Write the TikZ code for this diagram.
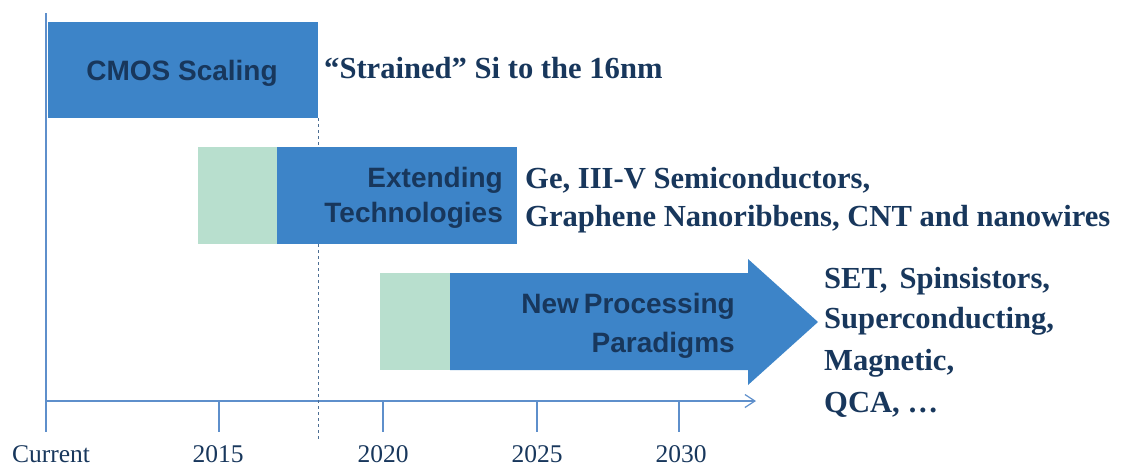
\documentclass[tikz,border=0pt]{standalone}
\usepackage{fontspec}
\setmainfont{Liberation Serif}
\setsansfont{Liberation Sans}
\usetikzlibrary{arrows.meta}
\definecolor{barblue}{HTML}{3D84C8}
\definecolor{bargreen}{HTML}{B8DFCE}
\definecolor{navy}{HTML}{18375C}
\definecolor{axisblue}{HTML}{5E8FCB}
\definecolor{dashgray}{HTML}{4D6E93}
\tikzset{
  barlabel/.style={font=\sffamily\bfseries\fontsize{28}{34}\selectfont, text=navy, inner sep=0pt},
  desc/.style={font=\rmfamily\bfseries\fontsize{30.6}{36}\selectfont, text=navy, inner sep=0pt, anchor=base west},
  yearlabel/.style={font=\rmfamily\fontsize{25.5}{30}\selectfont, text=navy, inner sep=0pt, anchor=base},
  axisline/.style={draw=axisblue, line width=1.2pt},
}
\begin{document}
\begin{tikzpicture}[x=1pt,y=-1pt]
\useasboundingbox (0,0) rectangle (1127,467);
% axes
\coordinate (vtop) at (46,13);
\coordinate (origin) at (46,401);
\coordinate (vbot) at (46,432);
\coordinate (xend) at (756,401);
\draw[axisline] (vtop) -- (vbot);
\draw[axisline, -{Straight Barb[length=10pt,width=13pt,line width=1.2pt]}] (origin) -- (xend);
\foreach \x/\n in {219/a,383/b,537/c,679/d}{
  \coordinate (t\n) at (\x,401);
  \coordinate (b\n) at (\x,432);
  \draw[axisline] (t\n) -- (b\n);
}
% dashed line
\coordinate (dtop) at (318,118);
\coordinate (dbot) at (318,441);
\draw[dashgray, line width=0.7pt, dash pattern=on 3pt off 3pt] (dtop) -- (dbot);

% CMOS bar
\fill[barblue] (48,22) rectangle (318,118);
\node[barlabel, anchor=base] (cmos) at (182,80) {CMOS Scaling};
\node[desc] (strained) at (324,78) {“Strained” Si to the 16nm};

% Extending bar
\fill[bargreen] (198,147) rectangle (277,244);
\fill[barblue] (277,147) rectangle (517,244);
\node[barlabel, anchor=base east] (ext1) at (503,187) {Extending};
\node[barlabel, anchor=base east] (ext2) at (503,222) {Technologies};
\node[desc] (ge) at (525,188) {Ge, III-V Semiconductors,};
\node[desc] (gra) at (525,226) {Graphene Nanoribbens, CNT and nanowires};

% New processing arrow
\fill[bargreen] (380,273) rectangle (450,370);
\fill[barblue] (450,273) -- (748,273) -- (748,259) -- (818,322) -- (748,385) -- (748,370) -- (450,370) -- cycle;
\node[barlabel, anchor=base east] (np1) at (735,313) {New\kern-0.1em\ Processing};
\node[barlabel, anchor=base east] (np2) at (735,352) {Paradigms};
\node[desc] (set) at (824,288) {SET,\kern0.15em\ Spinsistors,};
\node[desc] (sup) at (824,328) {Superconducting,};
\node[desc] (mag) at (824,370) {Magnetic,};
\node[desc] (qca) at (824,412) {QCA, …};

% year labels
\node[yearlabel] (cur) at (51,462) {Current};
\node[yearlabel] (y15) at (218,462) {2015};
\node[yearlabel] (y20) at (383,462) {2020};
\node[yearlabel] (y25) at (537,462) {2025};
\node[yearlabel] (y30) at (681,462) {2030};
\end{tikzpicture}
\end{document}
